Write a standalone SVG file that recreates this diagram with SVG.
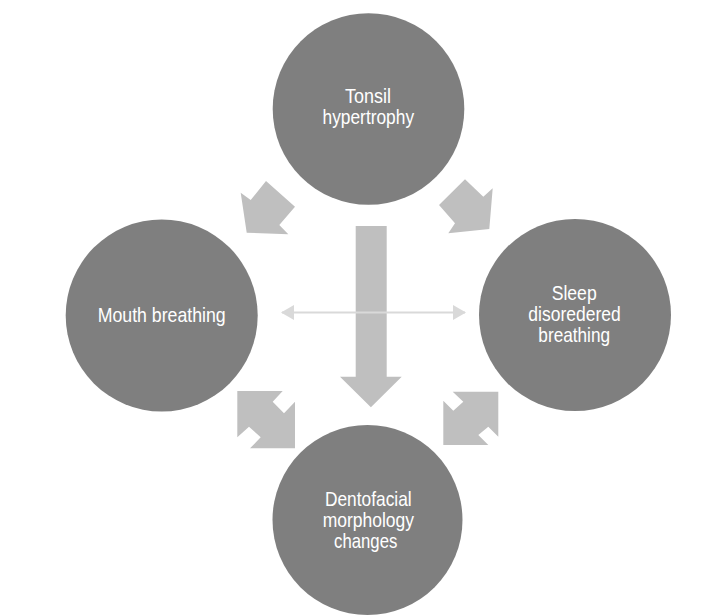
<svg xmlns="http://www.w3.org/2000/svg" width="723" height="616" viewBox="0 0 723 616">
  <defs>
    <style>
      .node { fill: #7f7f7f; }
      .label { fill: #ffffff; font-family: "Liberation Sans", Arial, sans-serif; font-size: 21px; text-anchor: middle; }
      .block { fill: #bfbfbf; }
      .thin { stroke: #d9d9d9; stroke-width: 2; fill: none; }
    </style>
    <marker id="thinHead" viewBox="0 0 13 15" refX="12" refY="7.5" markerWidth="13" markerHeight="15" markerUnits="userSpaceOnUse" orient="auto-start-reverse">
      <path d="M0,0 L13,7.5 L0,15 Z" fill="#d9d9d9"/>
    </marker>
  </defs>

  <rect width="723" height="616" fill="#ffffff"/>

  <!-- connectors -->
  <g id="connectors">
    <!-- top -> left -->
    <polygon class="block" points="266,181 295,206.7 279.3,225 288.3,234.3 246.7,232.7 240.7,192.7 250.7,200"/>
    <!-- top -> right -->
    <polygon class="block" points="465,179.3 483.3,196.7 492.7,188.3 489.3,229 448.3,233.3 455,223.3 439,205"/>
    <!-- left <-> bottom -->
    <polygon class="block" points="237.3,391 282.7,391 272.7,401.7 284,413.3 295,401.7 295,448.3 250,448.3 260.7,437.3 249,426.7 237.3,437.3"/>
    <!-- right <-> bottom -->
    <polygon class="block" points="498.3,391.7 452.7,391.7 463.3,401.7 453.3,410.7 443.3,400.7 443.3,445 488.3,445 478.3,435 488.3,426.7 498.3,436.7"/>
    <!-- top -> bottom -->
    <polygon class="block" points="355.7,226 386.7,226 386.7,376.7 401.7,376.7 370.9,407.3 340,376.7 355.7,376.7"/>
    <!-- left <-> right -->
    <line class="thin" x1="282" y1="312.5" x2="465" y2="312.5" marker-start="url(#thinHead)" marker-end="url(#thinHead)"/>
  </g>

  <g id="tonsil">
    <circle class="node" cx="368.5" cy="109" r="95.8"/>
    <text class="label" x="368" y="103.3" textLength="46" lengthAdjust="spacingAndGlyphs">Tonsil</text>
    <text class="label" x="368.3" y="124.3" textLength="91.5" lengthAdjust="spacingAndGlyphs">hypertrophy</text>
  </g>

  <g id="mouth">
    <circle class="node" cx="161.7" cy="315.5" r="96"/>
    <text class="label" x="161.7" y="322" textLength="128" lengthAdjust="spacingAndGlyphs">Mouth breathing</text>
  </g>

  <g id="sleep">
    <circle class="node" cx="575" cy="315" r="96"/>
    <text class="label" x="574.2" y="299.5" textLength="45" lengthAdjust="spacingAndGlyphs">Sleep</text>
    <text class="label" x="574.5" y="320.7" textLength="92.3" lengthAdjust="spacingAndGlyphs">disoredered</text>
    <text class="label" x="574.2" y="341.7" textLength="71.7" lengthAdjust="spacingAndGlyphs">breathing</text>
  </g>

  <g id="dentofacial">
    <circle class="node" cx="367.5" cy="520" r="95"/>
    <text class="label" x="368.3" y="506" textLength="86.7" lengthAdjust="spacingAndGlyphs">Dentofacial</text>
    <text class="label" x="368.3" y="527" textLength="91.3" lengthAdjust="spacingAndGlyphs">morphology</text>
    <text class="label" x="365.7" y="548" textLength="63.3" lengthAdjust="spacingAndGlyphs">changes</text>
  </g>
</svg>
